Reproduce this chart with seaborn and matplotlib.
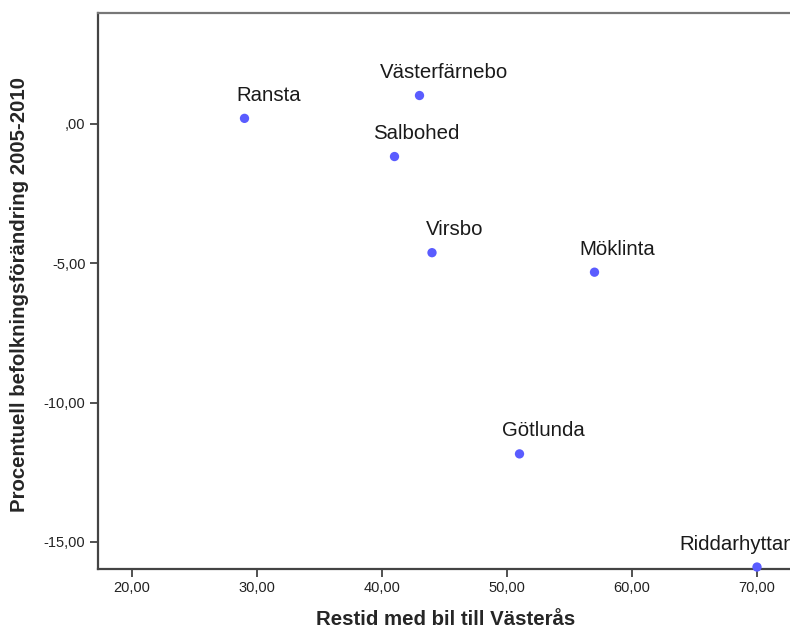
import matplotlib
matplotlib.use("Agg")
import matplotlib.pyplot as plt
import seaborn as sns
import pandas as pd

# values
orter = ["Ransta", "Västerfärnebo", "Salbohed", "Virsbo", "Möklinta", "Götlunda", "Riddarhyttan"]
restid = [29, 43, 41, 44, 57, 51, 70]
befolkning = [0.2, 1.02, -1.17, -4.62, -5.32, -11.84, -15.9]

xticks = [20, 30, 40, 50, 60, 70]
yticks = [0, -5, -10, -15]

# where each label starts, in pixels left of its point (SPSS style placement)
label_dx = [-8, -40, -21, -6, -15, -17.5, -78]

df = pd.DataFrame({"ort": orter, "restid": restid, "forandring": befolkning})

sns.set_style("white")
plt.rcParams['font.family'] = ['Liberation Sans', 'DejaVu Sans']

fig = plt.figure(figsize=(7.9, 6.31), dpi=100)
# axes box runs past the right edge of the picture, like the reference
ax = fig.add_axes([98/790, 1 - 568.7/631, (806 - 98)/790, (568.7 - 13.3)/631])

sns.scatterplot(data=df, x="restid", y="forandring", ax=ax,
                color="#5a5cff", s=45, edgecolor="none", clip_on=False, zorder=3)

for i in range(len(df)):
    ax.annotate(df["ort"][i], (df["restid"][i], df["forandring"][i]),
                xytext=(label_dx[i] * 0.72, 17.5 * 0.72), textcoords="offset points",
                ha="left", va="baseline", fontsize=14.7, color="#1a1a1a",
                annotation_clip=False)

ax.set_xlim(20 - 34/12.5, 20 + (806 - 132)/12.5)
ax.set_ylim(-15.96, 3.97)
ax.set_xticks(xticks)
ax.set_yticks(yticks)


def fmt(v):
    s = f"{v:.2f}".replace(".", ",")
    if s.startswith("0,"):
        s = s[1:]
    return s


ax.set_xticklabels([fmt(v) for v in xticks])
ax.set_yticklabels([fmt(v) for v in yticks])

ax.tick_params(axis="both", direction="out", length=6, width=1.2, color="#333333",
               labelsize=10.5, labelcolor="#222222", pad=3,
               bottom=True, left=True)
for side in ["left", "bottom"]:
    ax.spines[side].set_color("#444444")
    ax.spines[side].set_linewidth(1.6)
ax.spines["top"].set_color("#777777")
ax.spines["top"].set_linewidth(1.6)
ax.spines["right"].set_visible(False)

ax.set_xlabel("Restid med bil till Västerås", fontsize=14.7, fontweight="bold")
ax.set_ylabel("Procentuell befolkningsförändring 2005-2010", fontsize=14.7,
              fontweight="bold")
# keep label centred on the visible part
ax.xaxis.set_label_coords((446 - 98)/(806 - 98), (568.7 - 610)/555.4)
ax.yaxis.set_label_coords((29 - 98)/708, (568.7 - 294)/555.4)

fig.savefig("out.png", dpi=100)
